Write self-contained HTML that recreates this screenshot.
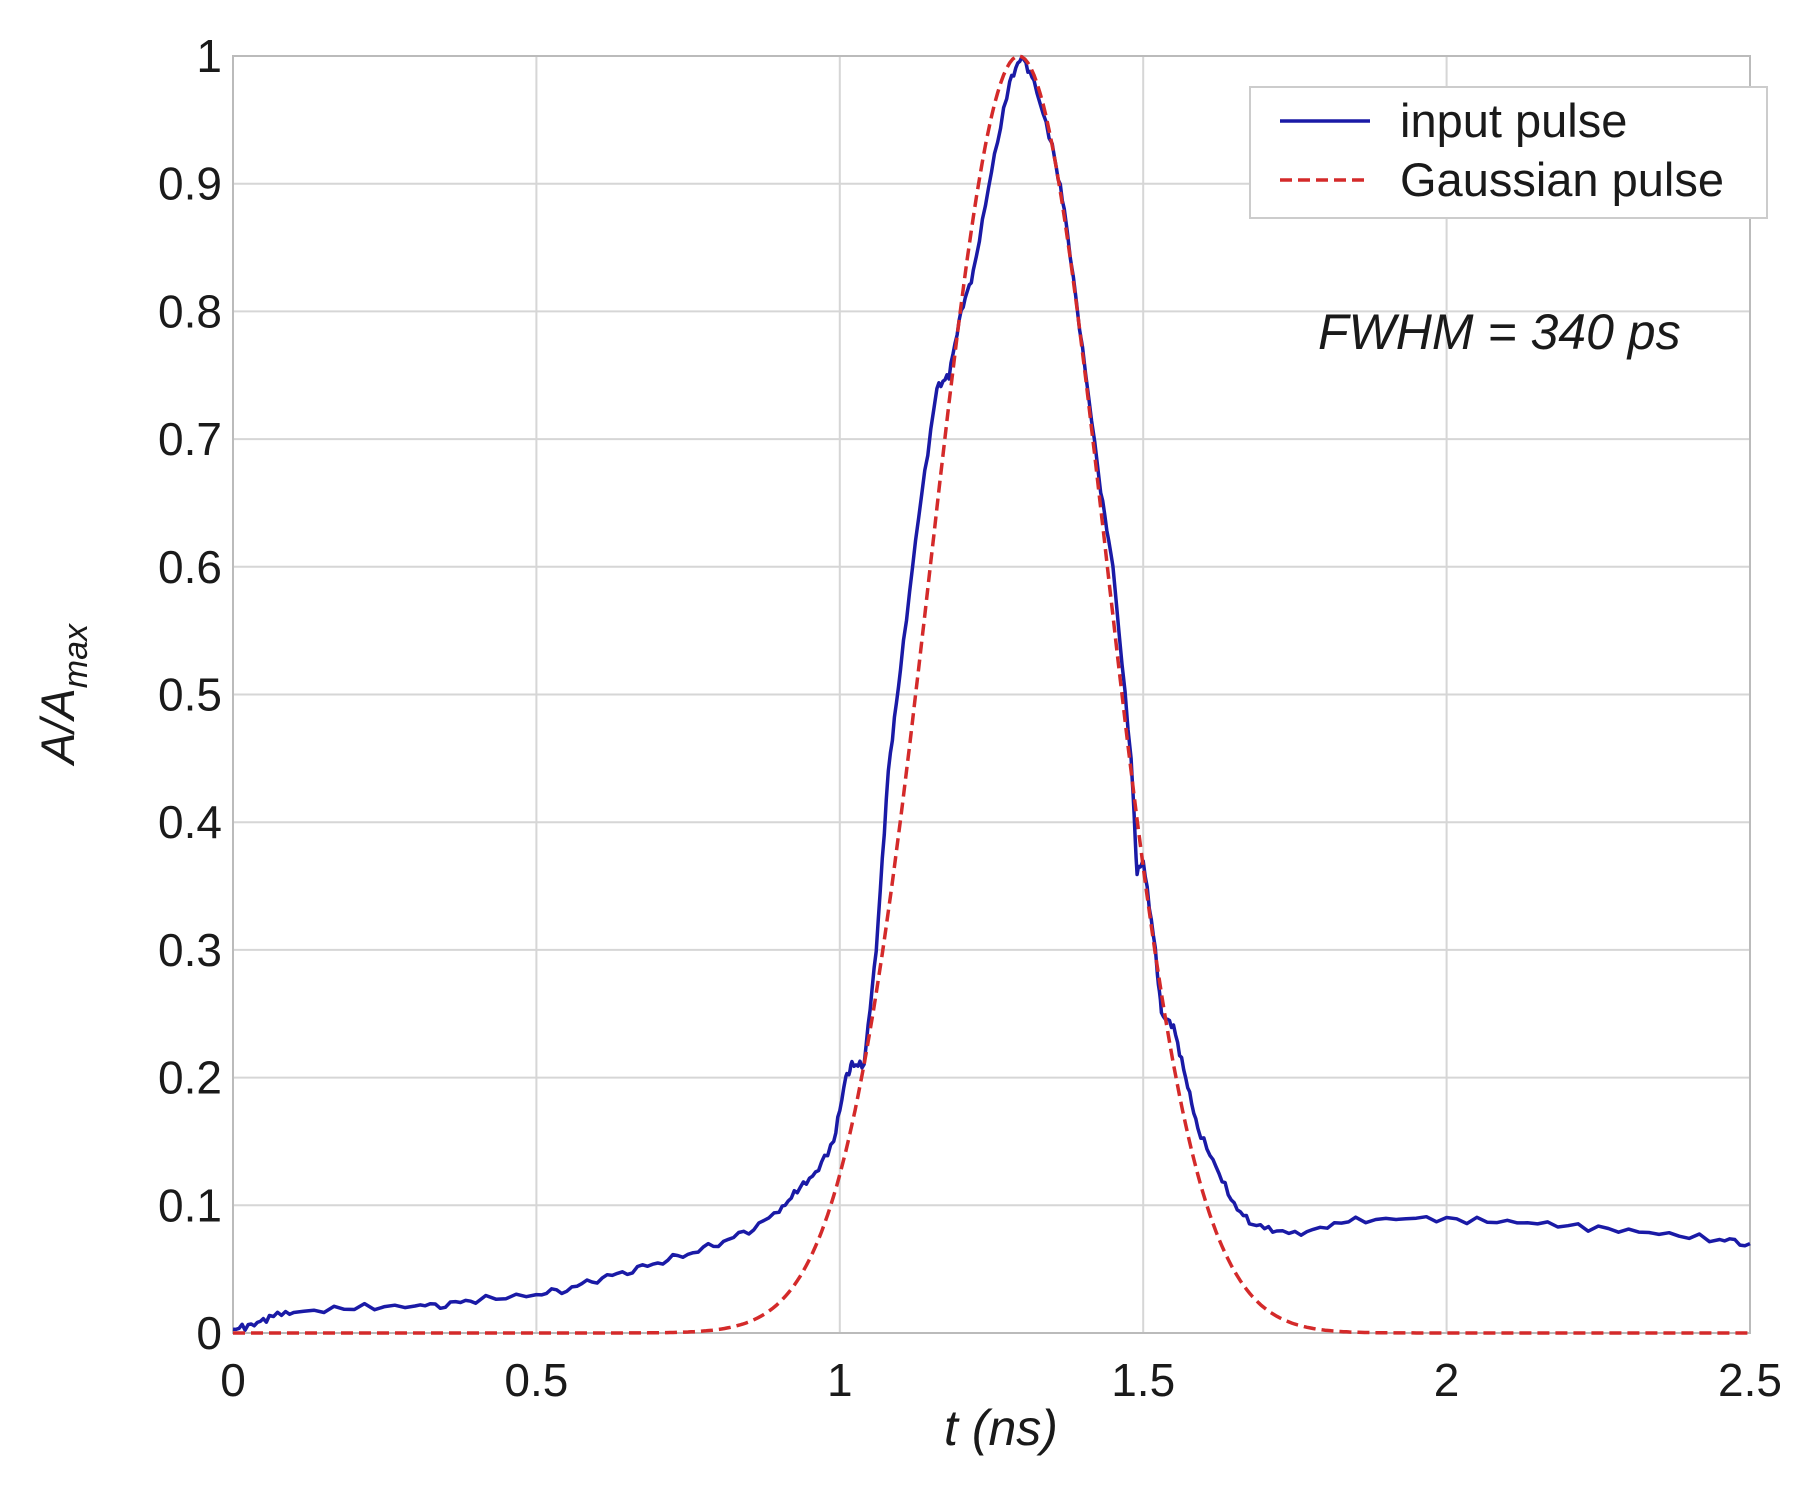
<!DOCTYPE html>
<html><head><meta charset="utf-8"><style>
html,body{margin:0;padding:0;background:#fff;}
svg{display:block;font-family:"Liberation Sans",sans-serif;}
</style></head><body>
<svg id="s" width="1815" height="1507" viewBox="0 0 1815 1507" xmlns="http://www.w3.org/2000/svg">
<rect width="1815" height="1507" fill="#fff"/>
<g id="grid" stroke="#d6d6d6" stroke-width="2"></g>
<rect x="233" y="56" width="1517" height="1277" fill="none" stroke="#bbb" stroke-width="2"/>
<g id="ticks" font-size="46" fill="#1a1a1a"></g>
<path id="inp" fill="none" stroke="#1a1aa6" stroke-width="3.5" stroke-linejoin="round"/>
<path id="gau" fill="none" stroke="#d42a2a" stroke-width="3.5" stroke-dasharray="12,6"/>
<rect x="1250" y="87" width="517" height="131" fill="#fff" stroke="#ccc" stroke-width="2"/>
<line x1="1280" y1="121" x2="1370" y2="121" stroke="#1a1aa6" stroke-width="3.5"/>
<line x1="1280" y1="180" x2="1370" y2="180" stroke="#d42a2a" stroke-width="3.5" stroke-dasharray="12,6"/>
<text x="1400" y="137" font-size="47" fill="#1a1a1a">input pulse</text>
<text x="1400" y="196" font-size="47" fill="#1a1a1a">Gaussian pulse</text>
<text x="1318" y="349" font-size="50" font-style="italic" fill="#1a1a1a">FWHM = 340 ps</text>
<text x="1001" y="1445" font-size="50" font-style="italic" text-anchor="middle" fill="#1a1a1a">t (ns)</text>
<text transform="translate(74,694) rotate(-90)" font-size="47" font-style="italic" text-anchor="middle" fill="#1a1a1a">A/A<tspan font-size="34" dy="13">max</tspan></text>
</svg>
<script>
var X=function(t){return 233+t*606.8},Y=function(a){return 1333-a*1277};
var g=document.getElementById('grid'),tk=document.getElementById('ticks'),ns='http://www.w3.org/2000/svg';
function el(p,tag,at,txt){var e=document.createElementNS(ns,tag);for(var k in at)e.setAttribute(k,at[k]);if(txt)e.textContent=txt;p.appendChild(e);}
for(var i=0;i<=10;i++){var y=Y(i/10);el(g,'line',{x1:233,x2:1750,y1:y,y2:y});el(tk,'text',{x:222,y:y+16,'text-anchor':'end'},i==0?'0':i==10?'1':(i/10).toFixed(1));}
for(var i=0;i<=5;i++){var x=X(i/2);el(g,'line',{x1:x,x2:x,y1:56,y2:1333});el(tk,'text',{x:x,y:1396,'text-anchor':'middle'},String(i/2));}
var d='';for(var t=0;t<=2.5001;t+=0.005){var a=Math.exp(-Math.pow(t-1.295,2)/(2*0.1444*0.1444));d+=(d?'L':'M')+X(t).toFixed(1)+','+Y(a).toFixed(1);}
document.getElementById('gau').setAttribute('d',d);
var pts=[[0,0.003],[0.03,0.006],[0.06,0.012],[0.1,0.016],[0.2,0.02],[0.3,0.021],[0.35,0.022],[0.4,0.026],[0.5,0.03],[0.55,0.034],[0.6,0.042],[0.65,0.048],[0.7,0.055],[0.75,0.062],[0.8,0.07],[0.85,0.08],[0.9,0.095],[0.93,0.112],[0.96,0.125],[0.99,0.15],[1.01,0.2],[1.02,0.21],[1.04,0.21],[1.06,0.3],[1.08,0.44],[1.1,0.52],[1.13,0.64],[1.16,0.74],[1.18,0.75],[1.2,0.8],[1.22,0.83],[1.25,0.91],[1.28,0.98],[1.3,1.0],[1.32,0.98],[1.35,0.93],[1.37,0.88],[1.4,0.77],[1.43,0.66],[1.45,0.6],[1.48,0.45],[1.49,0.36],[1.5,0.37],[1.52,0.3],[1.53,0.25],[1.55,0.24],[1.57,0.2],[1.59,0.16],[1.62,0.13],[1.65,0.1],[1.68,0.085],[1.72,0.078],[1.78,0.08],[1.85,0.088],[1.95,0.09],[2.05,0.088],[2.15,0.086],[2.25,0.082],[2.35,0.078],[2.45,0.073],[2.5,0.07]];
var d2='';for(var i=0;i<pts.length-1;i++){var p=pts[i],q=pts[i+1];for(var k=0;k<6;k++){var f=k/6,t=p[0]+(q[0]-p[0])*f,a=p[1]+(q[1]-p[1])*f+(Math.sin(t*531)+Math.sin(t*877))*0.0015;d2+=(d2?'L':'M')+X(t).toFixed(1)+','+Y(a).toFixed(1);}}
d2+='L'+X(2.5)+','+Y(0.07);
document.getElementById('inp').setAttribute('d',d2);
</script>
</body></html>
